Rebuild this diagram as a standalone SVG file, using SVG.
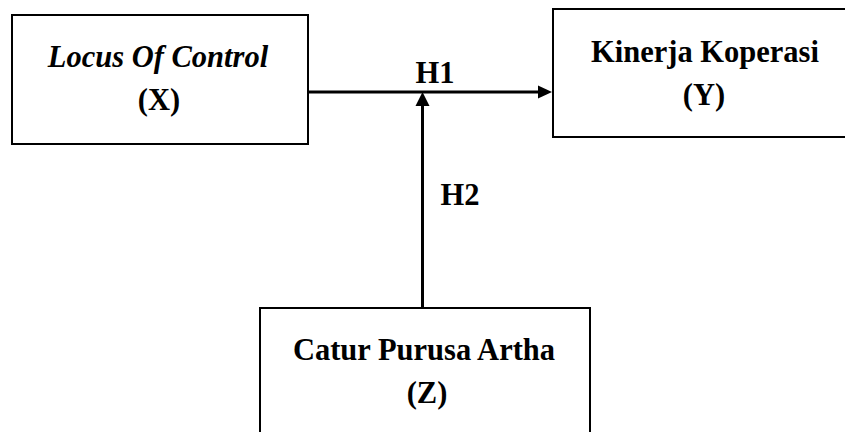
<svg xmlns="http://www.w3.org/2000/svg" width="845" height="432" viewBox="0 0 845 432">
<style>
.box{fill:#fff;stroke:#000;stroke-width:2}
.t{font-family:"Liberation Serif","Times New Roman",serif;font-weight:bold;font-size:30.5px;text-anchor:middle;fill:#000}
.i{font-style:italic}
.c{stroke:#000;stroke-width:3;fill:none}
</style>
<rect width="845" height="432" fill="#fff"/>
<g id="node-x">
<rect class="box" x="12" y="15" width="296" height="129"/>
<text class="t i" x="158" y="67">Locus Of Control</text>
<text class="t" x="159" y="110">(X)</text>
</g>
<g id="node-y">
<rect class="box" x="553" y="9" width="300" height="128"/>
<text class="t" x="705" y="62">Kinerja Koperasi</text>
<text class="t" x="704" y="105">(Y)</text>
</g>
<g id="node-z">
<rect class="box" x="260" y="308" width="330" height="140"/>
<text class="t" x="424" y="360">Catur Purusa Artha</text>
<text class="t" x="427" y="403">(Z)</text>
</g>
<g id="connectors">
<line class="c" x1="309" y1="92" x2="540" y2="92"/>
<polygon points="552,92 538,85.5 538,98.5" fill="#000"/>
<line class="c" x1="422.5" y1="307" x2="422.5" y2="104"/>
<polygon points="422.5,92 415.5,106 429.5,106" fill="#000"/>
<text class="t" x="435" y="83">H1</text>
<text class="t" x="460" y="205">H2</text>
</g>
</svg>
